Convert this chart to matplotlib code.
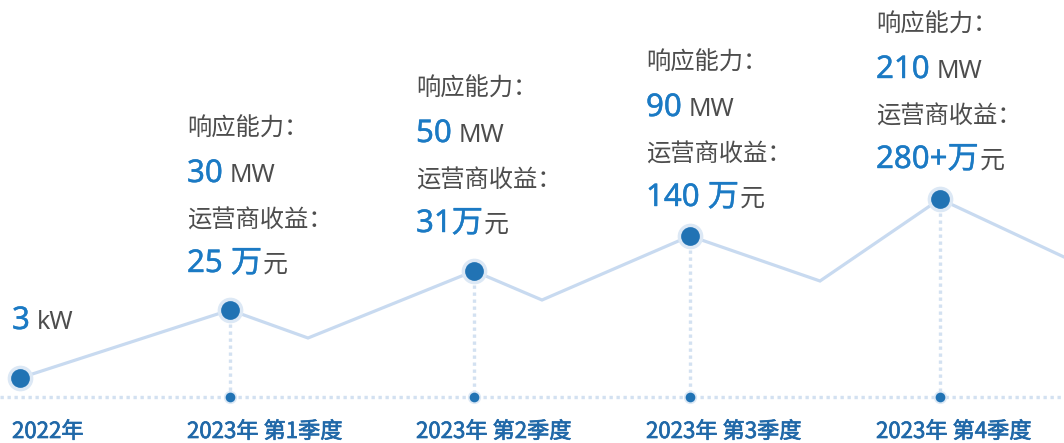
import matplotlib
matplotlib.use("Agg")
import matplotlib.pyplot as plt
import matplotlib.patheffects as pe

plt.rcParams['font.family'] = ['Noto Sans', 'Noto Sans CJK SC', 'DejaVu Sans']

# ---------------- data ----------------
categories = ['2022年', '2023年 第1季度', '2023年 第2季度', '2023年 第3季度', '2023年 第4季度']
capacity_values = ['3', '30', '50', '90', '210']
capacity_units = ['kW', 'MW', 'MW', 'MW', 'MW']
revenue_values = [None, '25 万', '31万', '140 万', '280+万']
revenue_unit = '元'

# polyline of the trend (milestones and the dips between them)
trend_x = [20, 230, 308, 474, 542, 690, 820, 940, 1064]
trend_y = [378, 310, 338, 271, 300, 236, 281, 199, 257]
milestone_idx = [0, 1, 3, 5, 7]
baseline_y = 397

# ---------------- style / layout ----------------
W, H = 1064, 443
BLUE_DOT = '#2173b4'
BLUE_TXT = '#1b7ac4'
BLUE_CAT = '#2068a8'
GRAY_TXT = '#4d4d4d'
LINE_C = '#c8daf0'
HALO_C = '#dce8f5'
DOT_LINE_C = '#d3e1f1'

label_x = [12, 187, 416, 646, 876]
label_top_center = [None, 129, 89, 63, 25]

fig = plt.figure(figsize=(W / 100, H / 100), dpi=100)
ax = fig.add_axes([0, 0, 1, 1])
ax.set_xlim(0, W)
ax.set_ylim(H, 0)
ax.axis('off')

# baseline dotted line
ax.plot([0, W], [baseline_y, baseline_y], color=DOT_LINE_C, lw=2.4,
        linestyle=(0, (1, 1.1)), solid_capstyle='butt', dash_capstyle='butt', zorder=1)

# trend line
ax.plot(trend_x, trend_y, color=LINE_C, lw=2.3, zorder=2, solid_joinstyle='miter')

mx = [trend_x[i] for i in milestone_idx]
my = [trend_y[i] for i in milestone_idx]

# vertical dotted connectors + small baseline dots
for k, (x, y) in enumerate(zip(mx, my)):
    if k == 0:
        continue
    ax.plot([x, x], [y, baseline_y], color=DOT_LINE_C, lw=2.4,
            linestyle=(0, (1, 1.1)), dash_capstyle='butt', zorder=1)
    ax.plot([x], [baseline_y], 'o', ms=9.5, color=HALO_C, mec='none', zorder=3)
    ax.plot([x], [baseline_y], 'o', ms=7, color=BLUE_DOT, mec='none', zorder=4)

# big milestone dots
ax.plot(mx, my, 'o', ms=18.5, color=HALO_C, mec='none', zorder=5, ls='none')
ax.plot(mx, my, 'o', ms=13.5, color=BLUE_DOT, mec='none', zorder=6, ls='none')

fig.canvas.draw()
renderer = fig.canvas.get_renderer()


def pieces(x, y, parts):
    """parts: list of (text, color, size, gap_px, stroke)"""
    cur = x
    for text, color, size, gap, stroke in parts:
        cur += gap
        t = ax.text(cur, y, text, color=color, fontsize=size, ha='left', va='baseline',
                    family=['Noto Sans', 'Noto Sans CJK SC'], zorder=7)
        if stroke:
            t.set_path_effects([pe.withStroke(linewidth=stroke, foreground=color)])
        bb = t.get_window_extent(renderer)
        cur += bb.width


NUM_FS = 22.5
UNIT_FS = 18
LAB_FS = 17.5

# "3 kW"
pieces(label_x[0], 329, [(capacity_values[0], BLUE_TXT, NUM_FS, 0, 0.3),
                         (capacity_units[0], GRAY_TXT, UNIT_FS, 7, 0)])

for k in range(1, 5):
    x = label_x[k]
    c = label_top_center[k]
    ax.text(x, c, '响应能力：', color=GRAY_TXT, fontsize=LAB_FS, ha='left', va='center',
            family=['Noto Sans CJK SC'])
    pieces(x, c + 53, [(capacity_values[k], BLUE_TXT, NUM_FS, 0, 0.3),
                       (capacity_units[k], GRAY_TXT, UNIT_FS, 7, 0)])
    ax.text(x, c + 92, '运营商收益：', color=GRAY_TXT, fontsize=LAB_FS, ha='left', va='center',
            family=['Noto Sans CJK SC'])
    pieces(x, c + 143, [(revenue_values[k], BLUE_TXT, NUM_FS, 0, 0.3),
                        (revenue_unit, GRAY_TXT, UNIT_FS, 1, 0)])

# category labels
for k, cat in enumerate(categories):
    t = ax.text(label_x[k], 438, cat, color=BLUE_CAT, fontsize=16, ha='left', va='baseline',
                family=['Noto Sans CJK SC'])
    t.set_path_effects([pe.withStroke(linewidth=0.5, foreground=BLUE_CAT)])

fig.savefig('out.png', dpi=100)
